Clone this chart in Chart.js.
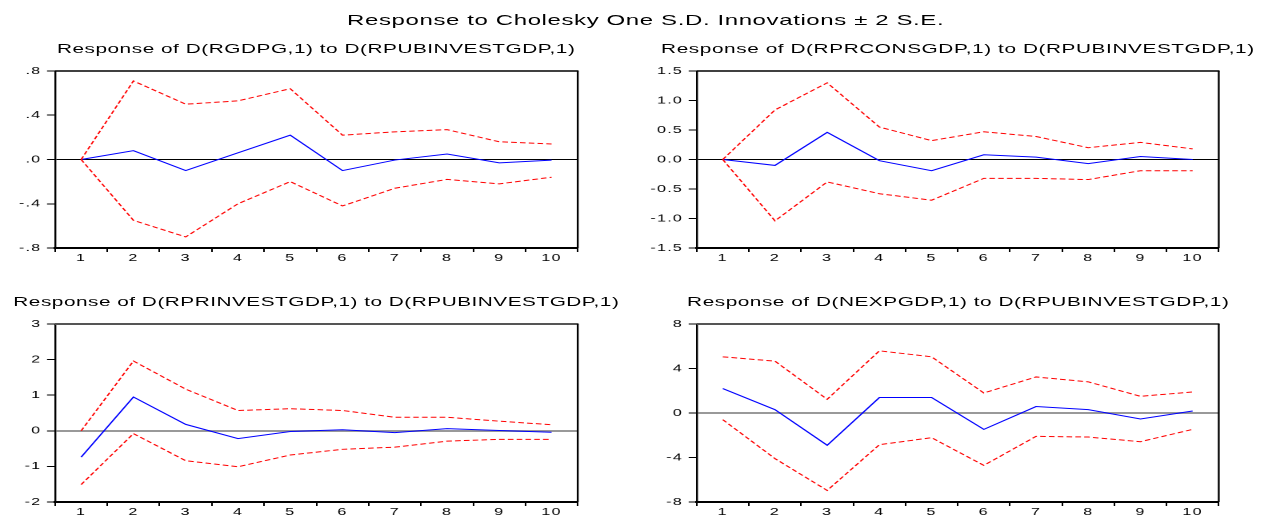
<!DOCTYPE html>
<html>
<head>
<meta charset="utf-8">
<script src="https://cdn.jsdelivr.net/npm/chart.js@4.4.1/dist/chart.umd.min.js"></script>
<style>
  html, body { margin: 0; padding: 0; background: #fff; width: 1263px; height: 516px; overflow: hidden; }
  /* the whole figure is laid out in narrow units and widened horizontally */
  #stage { position: absolute; left: 0; top: 0; width: 789.375px; height: 516px;
           transform: scaleX(1.6); transform-origin: 0 0; }
  .txt { position: absolute; white-space: nowrap; line-height: 1; color: #000;
         font-family: "Liberation Sans", Arial, Helvetica, sans-serif; }
  canvas { position: absolute; }
</style>
</head>
<body>
<div id="stage"></div>
<script>
// ---- periods after the shock ----
const periods = ['1', '2', '3', '4', '5', '6', '7', '8', '9', '10'];

// ---- response of D(RGDPG,1) ----
const rgdpgResponse = [0, 0.08, -0.10, 0.06, 0.22, -0.10, -0.005, 0.05, -0.03, -0.006];
const rgdpgUpper    = [0, 0.71, 0.50, 0.53, 0.64, 0.22, 0.25, 0.27, 0.16, 0.14];
const rgdpgLower    = [0, -0.55, -0.70, -0.40, -0.20, -0.42, -0.26, -0.18, -0.22, -0.16];
const rgdpgTickValues = [-0.8, -0.4, 0, 0.4, 0.8];
const rgdpgTickLabels = ['-.8', '-.4', '.0', '.4', '.8'];

// ---- response of D(RPRCONSGDP,1) ----
const rprconsResponse = [0, -0.10, 0.46, -0.02, -0.19, 0.08, 0.04, -0.07, 0.05, 0.00];
const rprconsUpper    = [0, 0.84, 1.30, 0.55, 0.32, 0.47, 0.39, 0.20, 0.29, 0.18];
const rprconsLower    = [0, -1.04, -0.38, -0.58, -0.69, -0.32, -0.32, -0.34, -0.19, -0.19];
const rprconsTickValues = [-1.5, -1.0, -0.5, 0, 0.5, 1.0, 1.5];
const rprconsTickLabels = ['-1.5', '-1.0', '-0.5', '0.0', '0.5', '1.0', '1.5'];

// ---- response of D(RPRINVESTGDP,1) ----
const rprinvResponse = [-0.74, 0.95, 0.18, -0.22, -0.02, 0.03, -0.05, 0.06, 0.01, -0.04];
const rprinvUpper    = [0.00, 1.96, 1.17, 0.57, 0.62, 0.57, 0.38, 0.38, 0.27, 0.17];
const rprinvLower    = [-1.51, -0.08, -0.84, -1.01, -0.68, -0.52, -0.46, -0.29, -0.24, -0.24];
const rprinvTickValues = [-2, -1, 0, 1, 2, 3];
const rprinvTickLabels = ['-2', '-1', '0', '1', '2', '3'];

// ---- response of D(NEXPGDP,1) ----
const nexpResponse = [2.20, 0.30, -2.90, 1.39, 1.39, -1.47, 0.58, 0.30, -0.54, 0.18];
const nexpUpper    = [5.05, 4.66, 1.23, 5.59, 5.05, 1.80, 3.24, 2.80, 1.50, 1.89];
const nexpLower    = [-0.60, -4.10, -6.96, -2.85, -2.22, -4.71, -2.10, -2.16, -2.58, -1.47];
const nexpTickValues = [-8, -4, 0, 4, 8];
const nexpTickLabels = ['-8', '-4', '0', '4', '8'];

const mainTitle = 'Response to Cholesky One S.D. Innovations \u00B1 2 S.E.';

const FONT = '"Liberation Sans", Arial, Helvetica, sans-serif';
const Y_AXIS_W = 34.4;
const X_AXIS_H = 22;
const PAD_TOP = 10;
const CANVAS_W = 370;

const panels = [
  { title: 'Response of D(RGDPG,1) to D(RPUBINVESTGDP,1)',
    resp: rgdpgResponse, upper: rgdpgUpper, lower: rgdpgLower,
    tickValues: rgdpgTickValues, tickLabels: rgdpgTickLabels,
    box: { x0: 34.4, x1: 361.1, y0: 71, y1: 248 }, titleY: 48, titleW: 324.4,
    zeroColor: '#000000', zeroWidth: 1, topColor: '#000000', topWidth: 1.5 },
  { title: 'Response of D(RPRCONSGDP,1) to D(RPUBINVESTGDP,1)',
    resp: rprconsResponse, upper: rprconsUpper, lower: rprconsLower,
    tickValues: rprconsTickValues, tickLabels: rprconsTickLabels,
    box: { x0: 435.8, x1: 762.1, y0: 71, y1: 248 }, titleY: 48, titleW: 371.5,
    zeroColor: '#000000', zeroWidth: 1, topColor: '#000000', topWidth: 1.5 },
  { title: 'Response of D(RPRINVESTGDP,1) to D(RPUBINVESTGDP,1)',
    resp: rprinvResponse, upper: rprinvUpper, lower: rprinvLower,
    tickValues: rprinvTickValues, tickLabels: rprinvTickLabels,
    box: { x0: 34.4, x1: 361.1, y0: 324, y1: 502 }, titleY: 301, titleW: 378.8,
    zeroColor: '#999999', zeroWidth: 2, topColor: '#555555', topWidth: 2 },
  { title: 'Response of D(NEXPGDP,1) to D(RPUBINVESTGDP,1)',
    resp: nexpResponse, upper: nexpUpper, lower: nexpLower,
    tickValues: nexpTickValues, tickLabels: nexpTickLabels,
    box: { x0: 435.8, x1: 762.1, y0: 324, y1: 502 }, titleY: 301, titleW: 339,
    zeroColor: '#999999', zeroWidth: 2, topColor: '#555555', topWidth: 2 }
];

const stage = document.getElementById('stage');

// text placed by its centre and stretched to a given width with letter spacing
function addText(str, cx, cy, size, width) {
  const el = document.createElement('div');
  el.className = 'txt';
  el.textContent = str;
  el.style.fontSize = size + 'px';
  stage.appendChild(el);
  const natural = el.offsetWidth;
  const spacing = (width - natural) / str.length;
  el.style.letterSpacing = spacing.toFixed(3) + 'px';
  el.style.left = (cx - width / 2) + 'px';
  el.style.top = (cy - 0.49 * size) + 'px';
  return el;
}

// top and right edges of the plot frame
const framePlugin = {
  id: 'frame',
  beforeDraw(chart) { chart.ctx.letterSpacing = '0.8px'; },
  afterDatasetsDraw(chart, args, opts) {
    const { ctx, chartArea: a } = chart;
    ctx.save();
    ctx.strokeStyle = opts.topColor;
    ctx.lineWidth = opts.topWidth;
    ctx.beginPath(); ctx.moveTo(a.left, a.top); ctx.lineTo(a.right + 0.5, a.top); ctx.stroke();
    ctx.strokeStyle = '#000000';
    ctx.lineWidth = 1.2;
    ctx.beginPath(); ctx.moveTo(a.right, a.top); ctx.lineTo(a.right, a.bottom); ctx.stroke();
    ctx.restore();
  }
};

function makePanel(p) {
  const b = p.box;
  const left = b.x0 - Y_AXIS_W;
  const top = b.y0 - PAD_TOP;
  const height = (b.y1 - b.y0) + PAD_TOP + X_AXIS_H;
  const cv = document.createElement('canvas');
  cv.width = CANVAS_W;
  cv.height = height;
  cv.style.left = left + 'px';
  cv.style.top = top + 'px';
  stage.appendChild(cv);

  const band = (values) => ({
    data: values, borderColor: '#ff0000', borderWidth: 1, borderDash: [3.5, 2],
    pointRadius: 0, fill: false, tension: 0
  });

  new Chart(cv, {
    type: 'line',
    data: {
      labels: periods,
      datasets: [
        band(p.upper),
        band(p.lower),
        { data: p.resp, borderColor: '#0000ff', borderWidth: 1, pointRadius: 0, fill: false, tension: 0 }
      ]
    },
    options: {
      responsive: false,
      animation: false,
      devicePixelRatio: 2,
      events: [],
      layout: { padding: { top: PAD_TOP, right: CANVAS_W - (b.x1 - left), bottom: 0, left: 0 } },
      plugins: {
        legend: { display: false },
        title: { display: false },
        tooltip: { enabled: false },
        frame: { topColor: p.topColor, topWidth: p.topWidth }
      },
      scales: {
        x: {
          type: 'category',
          offset: true,
          grid: { display: true, offset: true, drawOnChartArea: false, drawTicks: true,
                  tickLength: 4, color: '#000000', lineWidth: 1 },
          border: { display: true, color: '#000000', width: 2 },
          ticks: { color: '#000000', font: { family: FONT, size: 10 }, padding: 0,
                   maxRotation: 0, autoSkip: false },
          afterFit: (s) => { s.height = X_AXIS_H; }
        },
        y: {
          min: p.tickValues[0],
          max: p.tickValues[p.tickValues.length - 1],
          afterBuildTicks: (s) => { s.ticks = p.tickValues.map(v => ({ value: v })); },
          grid: {
            drawOnChartArea: true, drawTicks: true, tickLength: 5,
            tickColor: '#000000', tickWidth: 1,
            color: (c) => (c.tick && c.tick.value === 0) ? p.zeroColor : 'rgba(0,0,0,0)',
            lineWidth: (c) => (c.tick && c.tick.value === 0) ? p.zeroWidth : 1
          },
          border: { display: true, color: '#000000', width: 1.2 },
          ticks: { color: '#000000', font: { family: FONT, size: 10 }, padding: 3.5,
                   callback: (v, i) => p.tickLabels[i] },
          afterFit: (s) => { s.width = Y_AXIS_W; }
        }
      }
    },
    plugins: [framePlugin]
  });

  addText(p.title, (b.x0 + b.x1) / 2, p.titleY, 13, p.titleW);
}

addText(mainTitle, 403.4, 19.5, 15, 373);
panels.forEach(makePanel);
</script>
</body>
</html>
